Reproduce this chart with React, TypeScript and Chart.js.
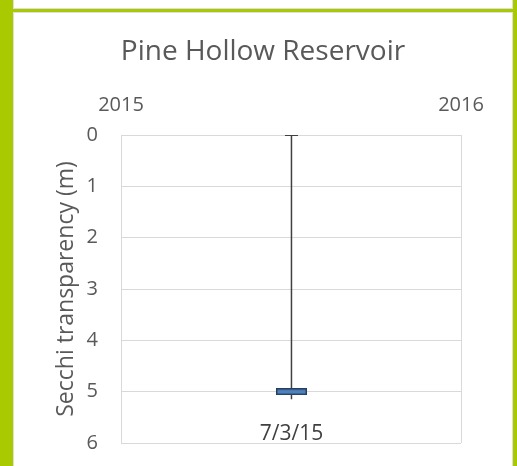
import React, { useEffect, useRef } from "react";
import { Chart, registerables } from "chart.js";

Chart.register(...registerables);

// ---- data ----
const chartTitle = "Pine Hollow Reservoir";
const yAxisTitle = "Secchi transparency (m)";
const yearTicks = [2015, 2016];
const sampleDates = ["7/3/15"];
const sampleYear = [2015];
const sampleMonth = [7];
const sampleDay = [3];
const secchiDepth = [5.0];
const rangeTop = [0];
const rangeBottom = [5.15];
const yMin = 0;
const yMax = 6;

function decimalYear(y: number, m: number, d: number) {
  const start = Date.UTC(y, 0, 1);
  const end = Date.UTC(y + 1, 0, 1);
  return y + (Date.UTC(y, m - 1, d) - start) / (end - start);
}

const sampleX = sampleDates.map((_, i) => decimalYear(sampleYear[i], sampleMonth[i], sampleDay[i]));

const FONT = "'Open Sans', 'Noto Sans', sans-serif";
const TEXT = "#595959";
const GRID = "#d9d9d9";

const TITLE_SIZE = 28;
const TITLE_PAD_TOP = 23.5;
const TITLE_PAD_BOTTOM = 10;
const TITLE_BLOCK = TITLE_PAD_TOP + TITLE_SIZE * 1.2 + TITLE_PAD_BOTTOM;

function makeMarker() {
  const c = document.createElement("canvas");
  c.width = 31;
  c.height = 7;
  const ctx = c.getContext("2d")!;
  ctx.fillStyle = "#243f60";
  ctx.fillRect(0, 0, 31, 7);
  ctx.fillStyle = "#4f81bd";
  ctx.fillRect(1.5, 1.5, 28, 4);
  return c;
}

const labelPlugin = {
  id: "sampleLabels",
  afterDatasetsDraw(chart: any) {
    const { ctx, chartArea, scales } = chart;
    ctx.save();
    ctx.font = `21px ${FONT}`;
    ctx.fillStyle = "#404040";
    ctx.textAlign = "center";
    ctx.textBaseline = "middle";
    sampleDates.forEach((d, i) => {
      const x = scales.x.getPixelForValue(sampleX[i]);
      ctx.fillText(d, x, chartArea.bottom - 9);
    });
    ctx.restore();
  },
};

export default function App() {
  const ref = useRef<HTMLCanvasElement>(null);
  useEffect(() => {
    if (!ref.current) return;
    const marker = makeMarker();
    const chart = new Chart(ref.current, {
      type: "scatter",
      data: {
        datasets: [
          {
            type: "line",
            data: sampleX.flatMap((x, i) => [
              { x, y: rangeTop[i] },
              { x, y: rangeBottom[i] },
            ]),
            borderColor: "#404040",
            borderWidth: 1.5,
            pointStyle: "line",
            pointRadius: (c: any) => (c.dataIndex % 2 === 0 ? 6.5 : 0),
            pointBorderWidth: 2,
            pointBorderColor: "#404040",
            showLine: true,
            order: 2,
          } as any,
          {
            data: sampleX.map((x, i) => ({ x, y: secchiDepth[i] })),
            pointStyle: marker as any,
            pointRadius: 10,
            order: 1,
          },
        ],
      },
      options: {
        responsive: false,
        animation: false,
        layout: { padding: { left: 0, right: 0, top: 0, bottom: 12 } },
        plugins: {
          legend: { display: false },
          tooltip: { enabled: false },
          title: {
            display: true,
            text: chartTitle,
            color: TEXT,
            font: { family: FONT, size: TITLE_SIZE, weight: "normal" as any },
            padding: { top: TITLE_PAD_TOP, bottom: TITLE_PAD_BOTTOM },
          },
        },
        scales: {
          x: {
            type: "linear",
            position: "top",
            min: yearTicks[0],
            max: yearTicks[yearTicks.length - 1],
            afterBuildTicks: (s: any) => {
              s.ticks = yearTicks.map((v) => ({ value: v }));
            },
            afterFit: (s: any) => {
              s.height = 123 - TITLE_BLOCK;
            },
            ticks: {
              color: TEXT,
              font: { family: FONT, size: 20 },
              padding: 17.5,
              maxRotation: 0,
              callback: (v: any) => String(v),
            },
            grid: { color: GRID, drawTicks: false, lineWidth: 1 },
            border: { color: GRID },
          },
          y: {
            type: "linear",
            reverse: true,
            min: yMin,
            max: yMax,
            afterFit: (s: any) => {
              s.width = 108;
            },
            ticks: {
              stepSize: 1,
              color: TEXT,
              font: { family: FONT, size: 20 },
              padding: 23,
            },
            grid: { color: GRID, drawTicks: false, lineWidth: 1 },
            border: { color: GRID },
            title: {
              display: true,
              text: yAxisTitle,
              color: TEXT,
              font: { family: FONT, size: 23 },
              padding: { top: 40, bottom: 0 },
            },
          },
          spacer: {
            type: "linear",
            position: "right",
            afterFit: (s: any) => {
              s.width = 52;
            },
            ticks: { display: false },
            grid: { display: false },
            border: { display: false },
          },
        },
      },
      plugins: [labelPlugin],
    });
    return () => chart.destroy();
  }, []);

  return (
    <div
      style={{
        position: "fixed",
        left: 0,
        top: 0,
        width: 517,
        height: 466,
        background: "#a9c900",
        overflow: "hidden",
      }}
    >
      <div
        style={{
          position: "absolute",
          left: 13,
          top: -4,
          width: 500,
          height: 13,
          background: "#fff",
          boxSizing: "border-box",
          border: "1px solid #dedede",
        }}
      />
      <div
        style={{
          position: "absolute",
          left: 13,
          top: 12,
          width: 500,
          height: 470,
          background: "#fff",
          boxSizing: "border-box",
          border: "1px solid #dedede",
        }}
      />
      <canvas
        ref={ref}
        width={500}
        height={466}
        style={{ position: "absolute", left: 13, top: 12, width: 500, height: 466 }}
      />
    </div>
  );
}
